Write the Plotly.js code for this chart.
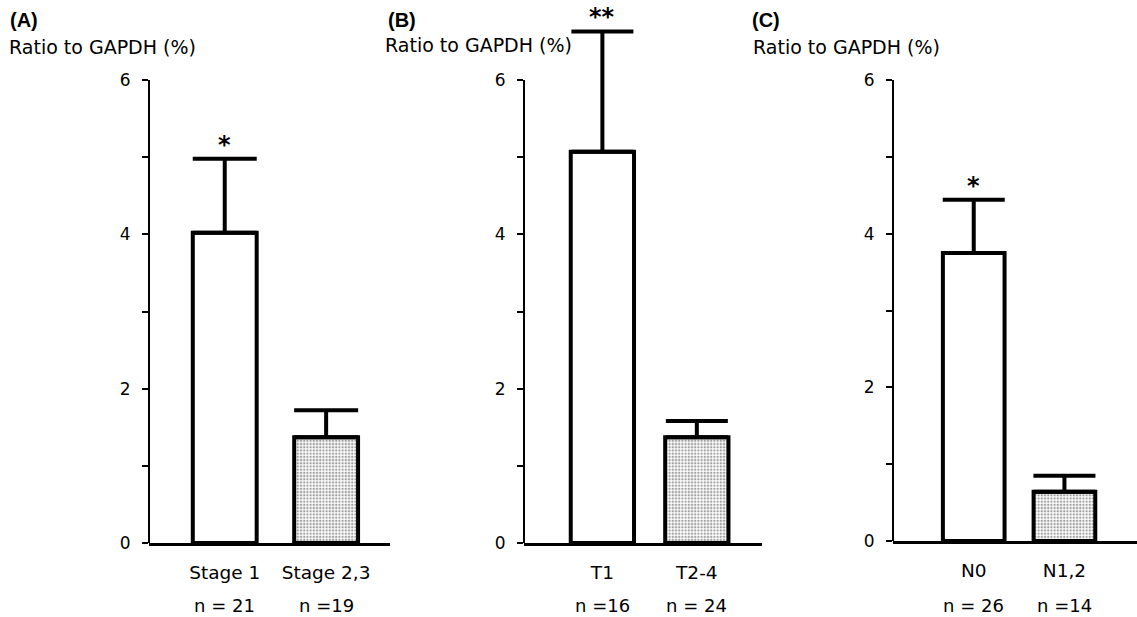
<!DOCTYPE html>
<html>
<head>
<meta charset="utf-8">
<script src="https://cdn.plot.ly/plotly-3.0.1.min.js"></script>
<style>html,body{margin:0;padding:0;background:#fff;}#chart{width:1137px;height:617px;}</style>
</head>
<body>
<div id="chart"></div>
<script>
// ---- data ----
const catsA = ['Stage 1', 'Stage 2,3'];
const nA = ['n = 21', 'n =19'];
const valsA = [4.02, 1.37];
const errA = [0.96, 0.35];

const catsB = ['T1', 'T2-4'];
const nB = ['n =16', 'n = 24'];
const valsB = [5.07, 1.37];
const errB = [1.56, 0.21];

const catsC = ['N0', 'N1,2'];
const nC = ['n = 26', 'n =14'];
const valsC = [3.75, 0.64];
const errC = [0.69, 0.21];

const panelLabels = ['(A)', '(B)', '(C)'];
const yTitle = 'Ratio to GAPDH (%)';
const sigMarks = ['*', '**', '*'];
const yTicks = [0, 1, 2, 3, 4, 5, 6];
const yTickText = ['0', '', '2', '', '4', '', '6'];
const yAxisMax = 6;

// ---- styling ----
const FONT = 'DejaVu Sans, Verdana, sans-serif';
const W = 1137, H = 617;
const TOP = 80;      // pixel of y = 6
const PLOT_TOP = 20; // top of plotting area (room for error bars above 6)
const panels = [
  {cats: catsA, n: nA, vals: valsA, err: errA, xa: 'x', ya: 'y', left: 149, right: 390, bottom: 543, range: [-0.747, 1.63], bw: 0.63, cap: 32},
  {cats: catsB, n: nB, vals: valsB, err: errB, xa: 'x2', ya: 'y2', left: 524, right: 762, bottom: 543, range: [-0.83, 1.69], bw: 0.67, cap: 31},
  {cats: catsC, n: nC, vals: valsC, err: errC, xa: 'x3', ya: 'y3', left: 893, right: 1137, bottom: 541, range: [-0.89, 1.80], bw: 0.68, cap: 31}
];

const traces = [];
const layout = {
  width: W, height: H,
  margin: {l: 0, r: 0, t: 0, b: 0},
  paper_bgcolor: '#fff', plot_bgcolor: 'rgba(0,0,0,0)',
  showlegend: false,
  font: {family: FONT, color: '#000', size: 18},
  bargap: 0,
  annotations: [],
  shapes: []
};

panels.forEach((p, i) => {
  traces.push({
    type: 'bar',
    x: p.cats,
    y: p.vals,
    xaxis: p.xa, yaxis: p.ya,
    width: p.bw,
    marker: {
      color: ['#ffffff', '#ffffff'],
      line: {color: '#000', width: 4},
      pattern: {shape: ['', '.'], fgcolor: '#000', bgcolor: '#fff', size: 3.2, solidity: 0.45, fillmode: 'overlay'}
    },
    error_y: {type: 'data', symmetric: false, array: p.err, arrayminus: p.err.map(() => 0), color: '#000', thickness: 4, width: p.cap},
    hoverinfo: 'skip'
  });
  const sfx = i === 0 ? '' : String(i + 1);
  const pxPerUnit = (p.bottom - TOP) / yAxisMax;
  const topVal = (p.bottom - PLOT_TOP) / pxPerUnit;
  layout['xaxis' + sfx] = {
    domain: [p.left / W, p.right / W],
    anchor: 'y' + sfx,
    type: 'category',
    categoryorder: 'array', categoryarray: p.cats,
    range: p.range,
    showline: true, linecolor: '#000', linewidth: 3,
    showgrid: false, zeroline: false,
    ticks: '',
    tickmode: 'array', tickvals: p.cats, ticktext: p.cats,
    ticklabelstandoff: 11,
    tickfont: {family: FONT, size: 18.5, color: '#000'},
    fixedrange: true
  };
  layout['yaxis' + sfx] = {
    domain: [(H - p.bottom) / H, (H - PLOT_TOP) / H],
    anchor: 'x' + sfx,
    range: [0, topVal],
    showline: false,
    showgrid: false, zeroline: false,
    ticks: 'outside', ticklen: 6, tickwidth: 2, tickcolor: '#000',
    tickmode: 'array', tickvals: yTicks, ticktext: yTickText,
    ticklabelstandoff: 8,
    tickfont: {family: FONT, size: 17, color: '#000'},
    fixedrange: true
  };
  // y axis line from 0 to 6
  layout.shapes.push({
    type: 'line', xref: p.xa + ' domain', yref: p.ya,
    x0: 0, x1: 0, y0: 0, y1: yAxisMax,
    line: {color: '#000', width: 2}
  });
  // n labels under category labels
  p.cats.forEach((c, k) => {
    layout.annotations.push({
      xref: p.xa, yref: 'paper', x: c, y: 1 - 605 / H,
      xanchor: 'center', yanchor: 'middle', showarrow: false,
      text: p.n[k],
      font: {family: FONT, size: 18, color: '#000'}
    });
  });
  // panel letter
  const letterX = [8, 386, 750][i];
  const titleX = [7, 383, 751][i];
  layout.annotations.push({
    xref: 'paper', yref: 'paper', x: letterX / W, y: 1 - 20 / H,
    xanchor: 'left', yanchor: 'middle', showarrow: false,
    text: '<b>' + panelLabels[i] + '</b>',
    font: {family: 'Liberation Sans, Arial, sans-serif', size: 20, color: '#000'}
  });
  layout.annotations.push({
    xref: 'paper', yref: 'paper', x: titleX / W, y: 1 - [47, 45, 47][i] / H,
    xanchor: 'left', yanchor: 'middle', showarrow: false,
    text: yTitle,
    font: {family: FONT, size: 19, color: '#000'}
  });
  // significance mark
  layout.annotations.push({
    xref: p.xa, yref: p.ya, x: p.cats[0], y: p.vals[0] + p.err[0],
    xanchor: 'center', yanchor: 'bottom', yshift: -2, showarrow: false,
    text: '<b>' + sigMarks[i] + '</b>',
    font: {family: FONT, size: 24, color: '#000'}
  });
});

Plotly.newPlot('chart', traces, layout, {displayModeBar: false, staticPlot: true});
</script>
</body>
</html>
